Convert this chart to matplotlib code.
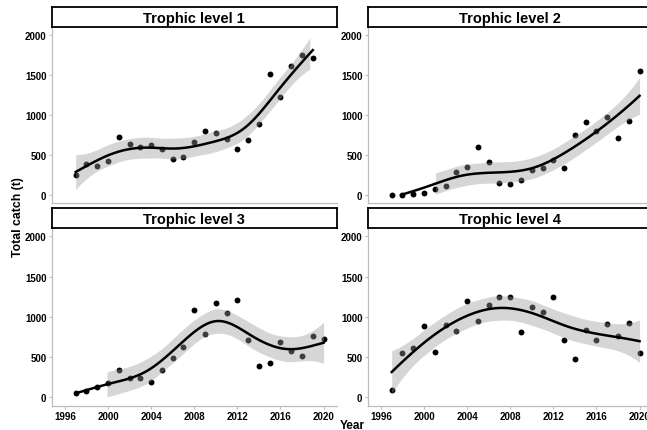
import numpy as np
import matplotlib
matplotlib.use("Agg")
import matplotlib.pyplot as plt

plt.rcParams['font.family'] = ['Liberation Sans', 'DejaVu Sans']

# catch per year for each trophic level
years_tl1 = list(range(1997, 2020))
catch_tl1 = [256, 393, 368, 426, 723, 640, 603, 628, 578, 459, 483, 669,
             802, 785, 702, 578, 694, 897, 1516, 1227, 1620, 1756, 1715]

years_tl2 = list(range(1997, 2021))
catch_tl2 = [8, 4, 21, 33, 74, 116, 293, 351, 599, 417, 149, 140,
             186, 322, 339, 446, 339, 752, 913, 802, 975, 711, 934, 1550]

years_tl3 = list(range(1997, 2021))
catch_tl3 = [53, 83, 133, 174, 340, 244, 244, 187, 344, 485, 626, 1091,
             792, 1174, 1050, 1212, 710, 386, 431, 692, 577, 511, 767, 730]

years_tl4 = list(range(1997, 2021))
catch_tl4 = [91, 548, 618, 892, 568, 904, 822, 1203, 954, 1149, 1253, 1241,
             809, 1129, 1058, 1241, 714, 481, 842, 714, 909, 763, 925, 548]

titles = ['Trophic level 1', 'Trophic level 2', 'Trophic level 3', 'Trophic level 4']
x_ticks = [1996, 2000, 2004, 2008, 2012, 2016, 2020]
y_ticks = [0, 500, 1000, 1500, 2000]


def bspline_basis(x, lo, hi, nseg, deg=3):
    dx = (hi - lo) / nseg
    knots = lo + dx * np.arange(-deg, nseg + deg + 1)
    x = np.clip(x, lo, hi - 1e-9)
    B = ((x[:, None] >= knots[None, :-1]) & (x[:, None] < knots[None, 1:])).astype(float)
    for k in range(1, deg + 1):
        left = (x[:, None] - knots[None, :-k - 1]) / (knots[k:-1] - knots[:-k - 1])
        right = (knots[None, k + 1:] - x[:, None]) / (knots[k + 1:] - knots[1:-k])
        B = left * B[:, :-1] + right * B[:, 1:]
    return B


def t975(df):
    z = 1.959964
    return (z + (z**3 + z) / (4 * df) + (5 * z**5 + 16 * z**3 + 3 * z) / (96 * df**2)
            + (3 * z**7 + 19 * z**5 + 17 * z**3 - 15 * z) / (384 * df**3))


def gam_smooth(xr, yr, nseg=7, max_edf=5.2, n_out=80):
    # penalised cubic spline (10 basis functions), smoothing picked by REML
    x = np.asarray(xr, float)
    y = np.asarray(yr, float)
    n = len(x)
    lo, hi = x.min(), x.max()
    X = bspline_basis(x, lo, hi, nseg)
    g = np.linspace(lo, hi, 3001)
    h = g[1] - g[0]
    G2 = np.gradient(np.gradient(bspline_basis(g, lo, hi, nseg), h, axis=0), h, axis=0)
    S = G2[5:-5].T @ G2[5:-5] * h
    ev = np.linalg.eigvalsh(S)
    ev = ev[ev > ev.max() * 1e-8]
    best = None
    for ll in np.linspace(-10, 20, 600):
        lam = np.exp(ll)
        A = X.T @ X + lam * S
        beta = np.linalg.solve(A, X.T @ y)
        edf = np.trace(np.linalg.solve(A, X.T @ X))
        if edf > max_edf:
            continue
        pen = np.sum((y - X @ beta) ** 2) + lam * beta @ S @ beta
        v = (n - (X.shape[1] - len(ev))) * np.log(pen) + np.linalg.slogdet(A)[1] \
            - np.sum(np.log(lam * ev))
        if best is None or v < best[0]:
            best = (v, lam)
    lam = best[1]
    A = X.T @ X + lam * S
    Ainv = np.linalg.inv(A)
    beta = Ainv @ X.T @ y
    edf = np.trace(Ainv @ X.T @ X)
    sigma2 = np.sum((y - X @ beta) ** 2) / (n - edf)
    xs = np.linspace(lo, hi, n_out)
    Bs = bspline_basis(xs, lo, hi, nseg)
    fit = Bs @ beta
    se = np.sqrt(np.sum((Bs @ Ainv) * Bs, axis=1) * sigma2)
    t = t975(n - edf)
    return xs, fit, fit - t * se, fit + t * se


W, H = 647, 431
fig = plt.figure(figsize=(W / 100, H / 100), dpi=100)

pw = 284.5
lefts = [52, 368, 52, 368]
bottoms = [204.3, 204.3, 406.5, 406.5]
heights = [176, 176, 177.2, 177.2]
data = [(years_tl1, catch_tl1), (years_tl2, catch_tl2),
        (years_tl3, catch_tl3), (years_tl4, catch_tl4)]

for i in range(4):
    l, b, h = lefts[i], bottoms[i], heights[i]
    ax = fig.add_axes([l / W, (H - b) / H, pw / W, h / H])
    xr, yr = data[i]
    ax.scatter(xr, yr, s=18, color='black', linewidths=0, zorder=2)

    # values outside the 0-2000 scale are dropped, like the original
    xs, fit, lo, hi = gam_smooth(xr, yr)
    bad = (lo < 0) | (hi > 2000)
    ax.fill_between(xs, np.where(bad, np.nan, lo), np.where(bad, np.nan, hi),
                    color='#999999', alpha=0.4, linewidth=0, zorder=3)
    ax.plot(xs, np.where((fit < 0) | (fit > 2000), np.nan, fit),
            color='black', lw=1.8, zorder=4)

    ax.set_xlim(1994.8, 2021.2)
    ax.set_ylim(-100, 2100)
    ax.set_yticks(y_ticks)
    ax.set_xticks(x_ticks)
    for s in ['top', 'right']:
        ax.spines[s].set_visible(False)
    for s in ['left', 'bottom']:
        ax.spines[s].set_color('#bdbdbd')
        ax.spines[s].set_linewidth(0.9)
    ax.tick_params(axis='both', length=2.5, width=0.8, color='#bdbdbd', pad=1.5,
                   labelsize=7)
    for lab in ax.get_yticklabels() + ax.get_xticklabels():
        lab.set_fontweight('bold')
    if i < 2:
        ax.tick_params(axis='x', length=0, labelbottom=False)

    # facet strip
    sax = fig.add_axes([l / W, (H - (b - h)) / H, pw / W, 20 / H])
    sax.set_xticks([])
    sax.set_yticks([])
    for s in sax.spines.values():
        s.set_color('black')
        s.set_linewidth(1.3)
    sax.text(0.5, 0.47, titles[i], ha='center', va='center', fontsize=10.5,
             fontweight='bold', transform=sax.transAxes)

fig.text(18 / W, (H - 217) / H, 'Total catch (t)', rotation=90, ha='center',
         va='center', fontsize=8.8, fontweight='bold')
fig.text(352 / W, (H - 429.5) / H, 'Year', ha='center', va='baseline',
         fontsize=8.5, fontweight='bold')

fig.savefig('out.png', dpi=100)
